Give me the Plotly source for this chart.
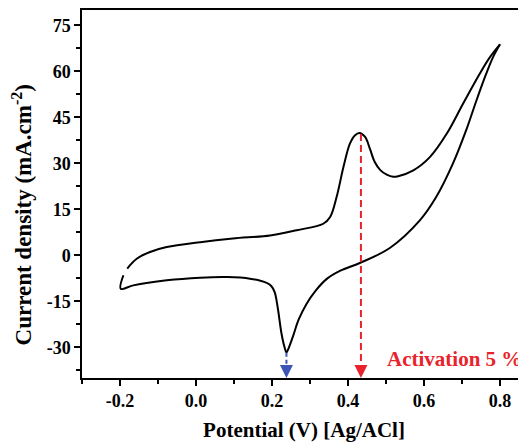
import plotly.graph_objects as go

# Cyclic voltammogram (anodic branch then cathodic branch)
upper_x = [-0.181, -0.156, -0.121, -0.077, 0.011, 0.097, 0.195, 0.265, 0.335, 0.353,
           0.370, 0.388, 0.405, 0.418, 0.430, 0.445, 0.458, 0.470, 0.485, 0.502, 0.519,
           0.532, 0.572, 0.616, 0.660, 0.703, 0.747, 0.774, 0.800]
upper_y = [-4.3, -1.1, 1.1, 2.7, 4.3, 5.5, 6.5, 8.2, 10.3, 12.5,
           19.0, 28.8, 36.4, 39.1, 39.9, 38.6, 34.6, 30.5, 27.8, 26.3, 25.6,
           25.8, 27.7, 32.1, 39.7, 49.5, 59.3, 64.7, 68.8]
lower_x = [0.800, 0.782, 0.764, 0.738, 0.711, 0.676, 0.632, 0.589, 0.510, 0.431,
           0.380, 0.345, 0.315, 0.290, 0.270, 0.255, 0.243, 0.238, 0.232, 0.225, 0.215, 0.207,
           0.198, 0.186, 0.142, 0.081, 0.011, -0.077, -0.165, -0.198, -0.191]
lower_y = [68.8, 64.7, 59.3, 50.5, 40.8, 29.9, 19.0, 11.4, 2.4, -2.5,
           -5.0, -7.6, -11.5, -16.0, -21.0, -26.5, -30.5, -31.6, -29.5, -25.5, -17.0, -12.0,
           -10.0, -9.0, -7.6, -7.1, -7.3, -8.15, -9.8, -10.9, -6.5]

anodic_peak = (0.434, 39.9)
cathodic_peak = (0.238, -31.8)

x_tickvals = [-0.2, 0.0, 0.2, 0.4, 0.6, 0.8]
x_ticktext = ["-0.2", "0.0", "0.2", "0.4", "0.6", "0.8"]
x_minor = [-0.3, -0.1, 0.1, 0.3, 0.5, 0.7]
y_tickvals = [-30, -15, 0, 15, 30, 45, 60, 75]
y_ticktext = ["-30", "-15", "0", "15", "30", "45", "60", "75"]
y_minor = [-37.5, -22.5, -7.5, 7.5, 22.5, 37.5, 52.5, 67.5]

label_text = "Activation 5 %"
x_title = "Potential (V) [Ag/ACl]"
y_title = "Current density (mA.cm<sup>-2</sup>)"

RED = "#e8232b"
BLUE = "#3d56b5"
FONT = "Liberation Serif"
Y_BOTTOM = -40

fig = go.Figure()
for xs, ys in [(upper_x, upper_y), (lower_x, lower_y)]:
    fig.add_trace(go.Scatter(x=xs, y=ys, mode="lines",
                             line=dict(color="black", width=2, shape="spline", smoothing=1.0),
                             showlegend=False, hoverinfo="skip"))

# dashed guide lines
fig.add_trace(go.Scatter(x=[anodic_peak[0], anodic_peak[0]], y=[anodic_peak[1] - 0.3, Y_BOTTOM + 2],
                         mode="lines", line=dict(color=RED, width=2, dash="7px,4px"),
                         showlegend=False, hoverinfo="skip"))
fig.add_trace(go.Scatter(x=[cathodic_peak[0], cathodic_peak[0]], y=[cathodic_peak[1], Y_BOTTOM + 2],
                         mode="lines", line=dict(color=BLUE, width=2, dash="4px,3px"),
                         showlegend=False, hoverinfo="skip"))

for xv, col in [(anodic_peak[0], RED), (cathodic_peak[0], BLUE)]:
    fig.add_annotation(x=xv, y=Y_BOTTOM, ax=xv, ay=Y_BOTTOM + 2.5, axref="x", ayref="y",
                       xref="x", yref="y", text="", showarrow=True, arrowhead=2,
                       arrowsize=1.3, arrowwidth=2, arrowcolor=col, standoff=0, startstandoff=0)

fig.add_annotation(x=0.681, y=-33.8, xref="x", yref="y", text=label_text, showarrow=False,
                   font=dict(family=FONT, size=21, color=RED, weight="bold"))

# y-axis title as annotation (placed slightly below the axis centre as in the original)
fig.add_annotation(x=0, xref="paper", xanchor="center", xshift=-60, y=13.0, yref="y",
                   yanchor="middle", text=y_title, textangle=-90, showarrow=False,
                   font=dict(family=FONT, size=23, color="black", weight="bold"))

axis_common = dict(showline=True, linecolor="black", linewidth=1.5, ticks="outside",
                   ticklen=6, tickwidth=1.5, tickcolor="black", showgrid=False, zeroline=False,
                   automargin=False,
                   tickfont=dict(family=FONT, size=18, color="black", weight="bold"))

fig.update_xaxes(range=[-0.3, 0.8684], tickvals=x_tickvals, ticktext=x_ticktext, mirror=True,
                 minor=dict(tickvals=x_minor, ticks="outside", ticklen=4, tickwidth=1.5, tickcolor="black"),
                 title=dict(text=x_title,
                            font=dict(family=FONT, size=21, color="black", weight="bold"),
                            standoff=12),
                 **axis_common)
fig.update_yaxes(range=[-40, 80], tickvals=y_tickvals, ticktext=y_ticktext, mirror=False,
                 minor=dict(tickvals=y_minor, ticks="outside", ticklen=4, tickwidth=1.5, tickcolor="black"),
                 **axis_common)

# page body has an 8px margin: size the figure so the window shows it exactly
fig.update_layout(width=518, height=435, margin=dict(l=74, r=0, t=2, b=65),
                  plot_bgcolor="white", paper_bgcolor="white",
                  font=dict(family=FONT, size=18, color="black"))

fig.write_html("out.html")
